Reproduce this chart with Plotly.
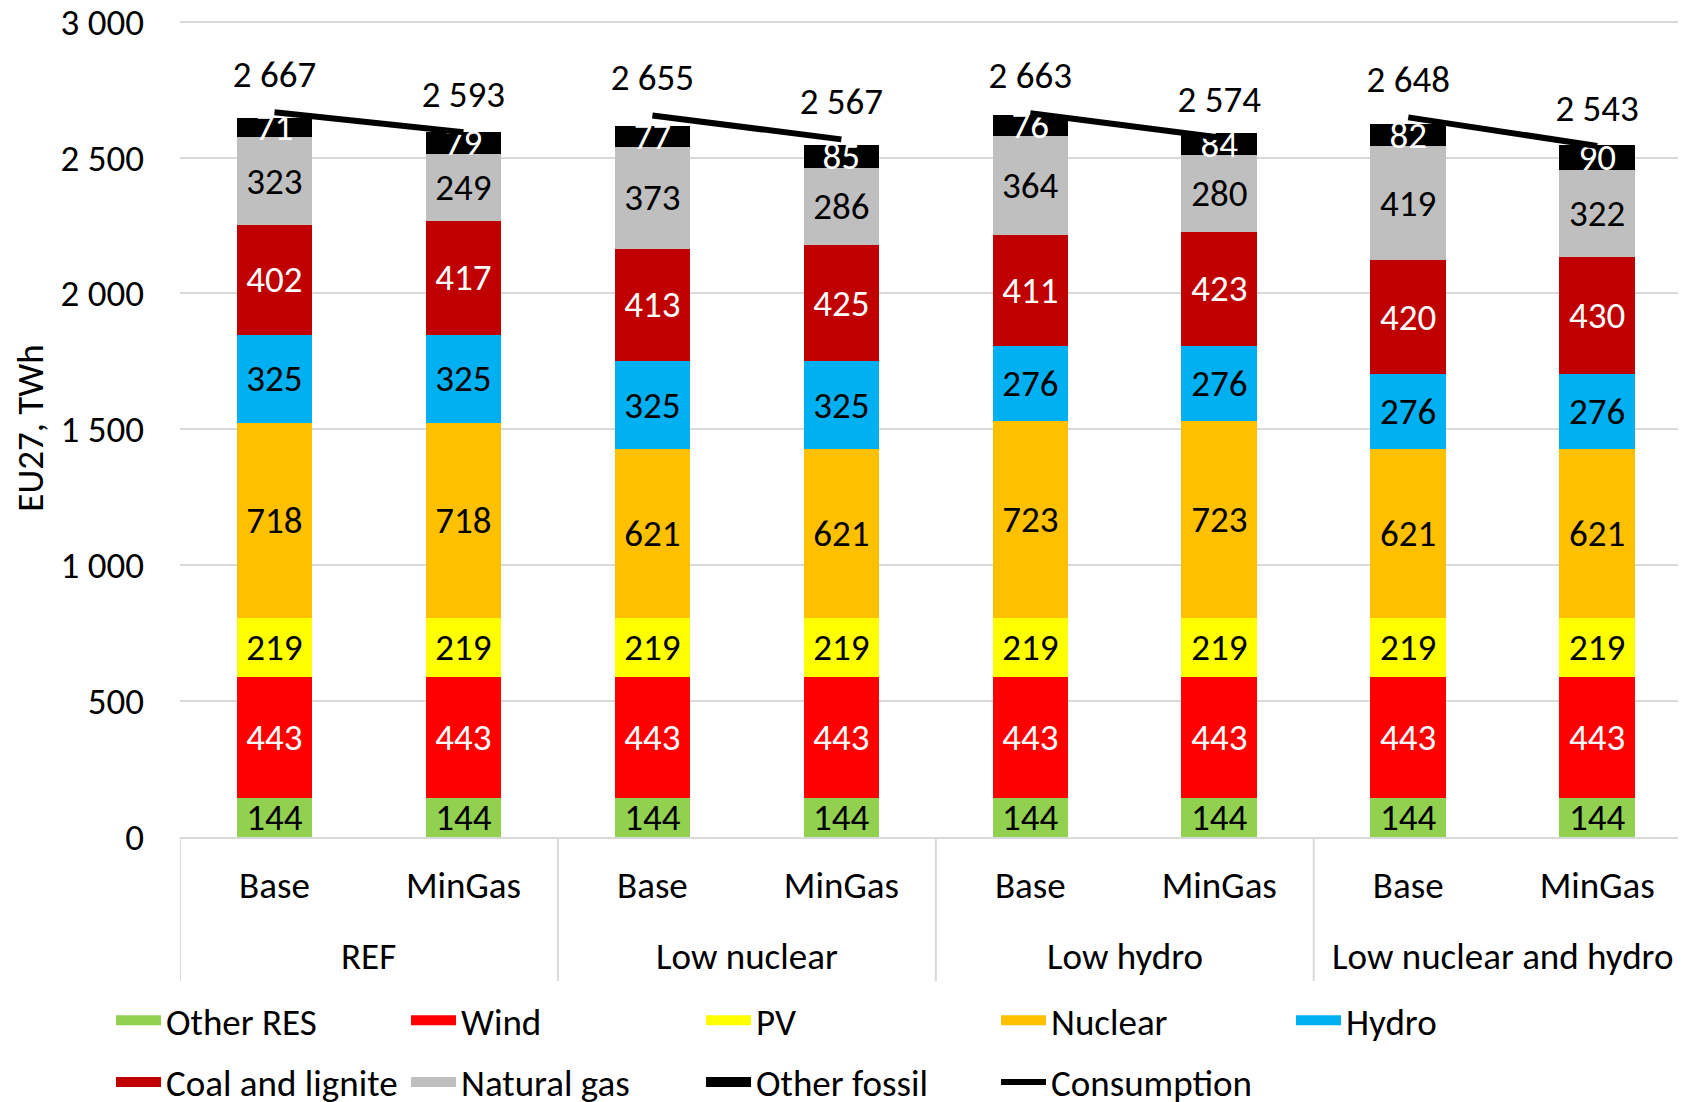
import plotly.graph_objects as go

group_names = ["REF", "Low nuclear", "Low hydro", "Low nuclear and hydro"]
case_names = ["Base", "MinGas"]
groups = [g for g in group_names for _ in case_names]
cases = case_names * len(group_names)

other_res = [144, 144, 144, 144, 144, 144, 144, 144]
wind = [443, 443, 443, 443, 443, 443, 443, 443]
pv = [219, 219, 219, 219, 219, 219, 219, 219]
nuclear = [718, 718, 621, 621, 723, 723, 621, 621]
hydro = [325, 325, 325, 325, 276, 276, 276, 276]
coal = [402, 417, 413, 425, 411, 423, 420, 430]
natural_gas = [323, 249, 373, 286, 364, 280, 419, 322]
other_fossil = [71, 79, 77, 85, 76, 84, 82, 90]
consumption = [2667, 2593, 2655, 2567, 2663, 2574, 2648, 2543]

FONT = "Carlito, Lato, sans-serif"
FS = 37
GRID = "#D9D9D9"

series = [
    ("Other RES", other_res, "#92D050", "black", "legend"),
    ("Wind", wind, "#FF0000", "white", "legend"),
    ("PV", pv, "#FFFF00", "black", "legend"),
    ("Nuclear", nuclear, "#FFC000", "black", "legend"),
    ("Hydro", hydro, "#00B0F0", "black", "legend"),
    ("Coal and lignite", coal, "#C00000", "white", "legend2"),
    ("Natural gas", natural_gas, "#BFBFBF", "black", "legend2"),
    ("Other fossil", other_fossil, "#000000", "white", "legend2"),
]

xi = list(range(len(cases)))

fig = go.Figure()
for name, vals, col, tcol, lg in series:
    fig.add_trace(go.Bar(
        x=xi, y=vals, name=name, showlegend=False, legendgroup=name,
        marker=dict(color=col, line=dict(width=0)),
        text=[str(v) for v in vals], textposition="inside", insidetextanchor="middle",
        textangle=0, constraintext="none",
        textfont=dict(color=tcol, size=FS, family=FONT), cliponaxis=False,
    ))
    # legend entry with a wide rectangular swatch
    fig.add_trace(go.Scatter(
        x=[None], y=[None], mode="lines", name=name, legend=lg, legendgroup=name,
        line=dict(color=col, width=27), hoverinfo="skip",
    ))

for gi in range(len(group_names)):
    idx = [i for i in xi if groups[i] == group_names[gi]]
    fig.add_trace(go.Scatter(
        x=idx, y=[consumption[i] for i in idx], name="Consumption", legend="legend2",
        mode="lines+markers+text", line=dict(color="black", width=6),
        marker=dict(size=24, color="rgba(0,0,0,0)"),
        text=[f"{consumption[i]:,}".replace(",", " ") for i in idx],
        textposition="top center", textfont=dict(size=FS, family=FONT, color="black"),
        showlegend=(gi == 0), legendgroup="cons", cliponaxis=False,
    ))

# group labels and dividers
for gi, g in enumerate(group_names):
    idx = [i for i in xi if groups[i] == g]
    fig.add_annotation(x=sum(idx) / len(idx), y=-0.1465, xref="x", yref="paper",
                       text=g, showarrow=False, yanchor="middle",
                       font=dict(size=FS, family=FONT, color="black"))
    fig.add_shape(type="line", xref="x", yref="paper", x0=idx[0] - 0.5, x1=idx[0] - 0.5,
                  y0=0, y1=-0.176, line=dict(color=GRID, width=2))

leg_common = dict(orientation="h", xref="paper", xanchor="left", yanchor="middle",
                  entrywidth=235, itemwidth=45,
                  font=dict(size=FS, family=FONT, color="black"),
                  traceorder="normal", bgcolor="rgba(0,0,0,0)", itemclick=False)

fig.update_layout(
    width=1678, height=1094, barmode="stack", bargap=0.6,
    margin=dict(l=172, r=0, t=11, b=265, autoexpand=False),
    plot_bgcolor="white", paper_bgcolor="white",
    font=dict(family=FONT, size=FS, color="black"),
    separators=". ",
    legend=dict(x=-0.0458, y=-0.2247, **leg_common),
    legend2=dict(x=-0.0458, y=-0.300, **leg_common),
    showlegend=True,
)
fig.update_yaxes(range=[0, 3010], tickvals=[0, 500, 1000, 1500, 2000, 2500, 3000],
                 tickformat=",d", showgrid=True, ticklabeloverflow="allow",
                 gridcolor=GRID, gridwidth=2, zeroline=False, automargin=False,
                 title=dict(text="EU27, TWh", font=dict(size=FS), standoff=6),
                 ticklabelstandoff=35, showline=False)
fig.update_xaxes(range=[-0.5, 7.47], tickvals=xi, ticktext=cases, showline=True,
                 linecolor=GRID, linewidth=2, showgrid=False, zeroline=False,
                 automargin=False, ticks="", ticklabelstandoff=15, tickfont=dict(size=FS))

fig.write_html("out.html")
